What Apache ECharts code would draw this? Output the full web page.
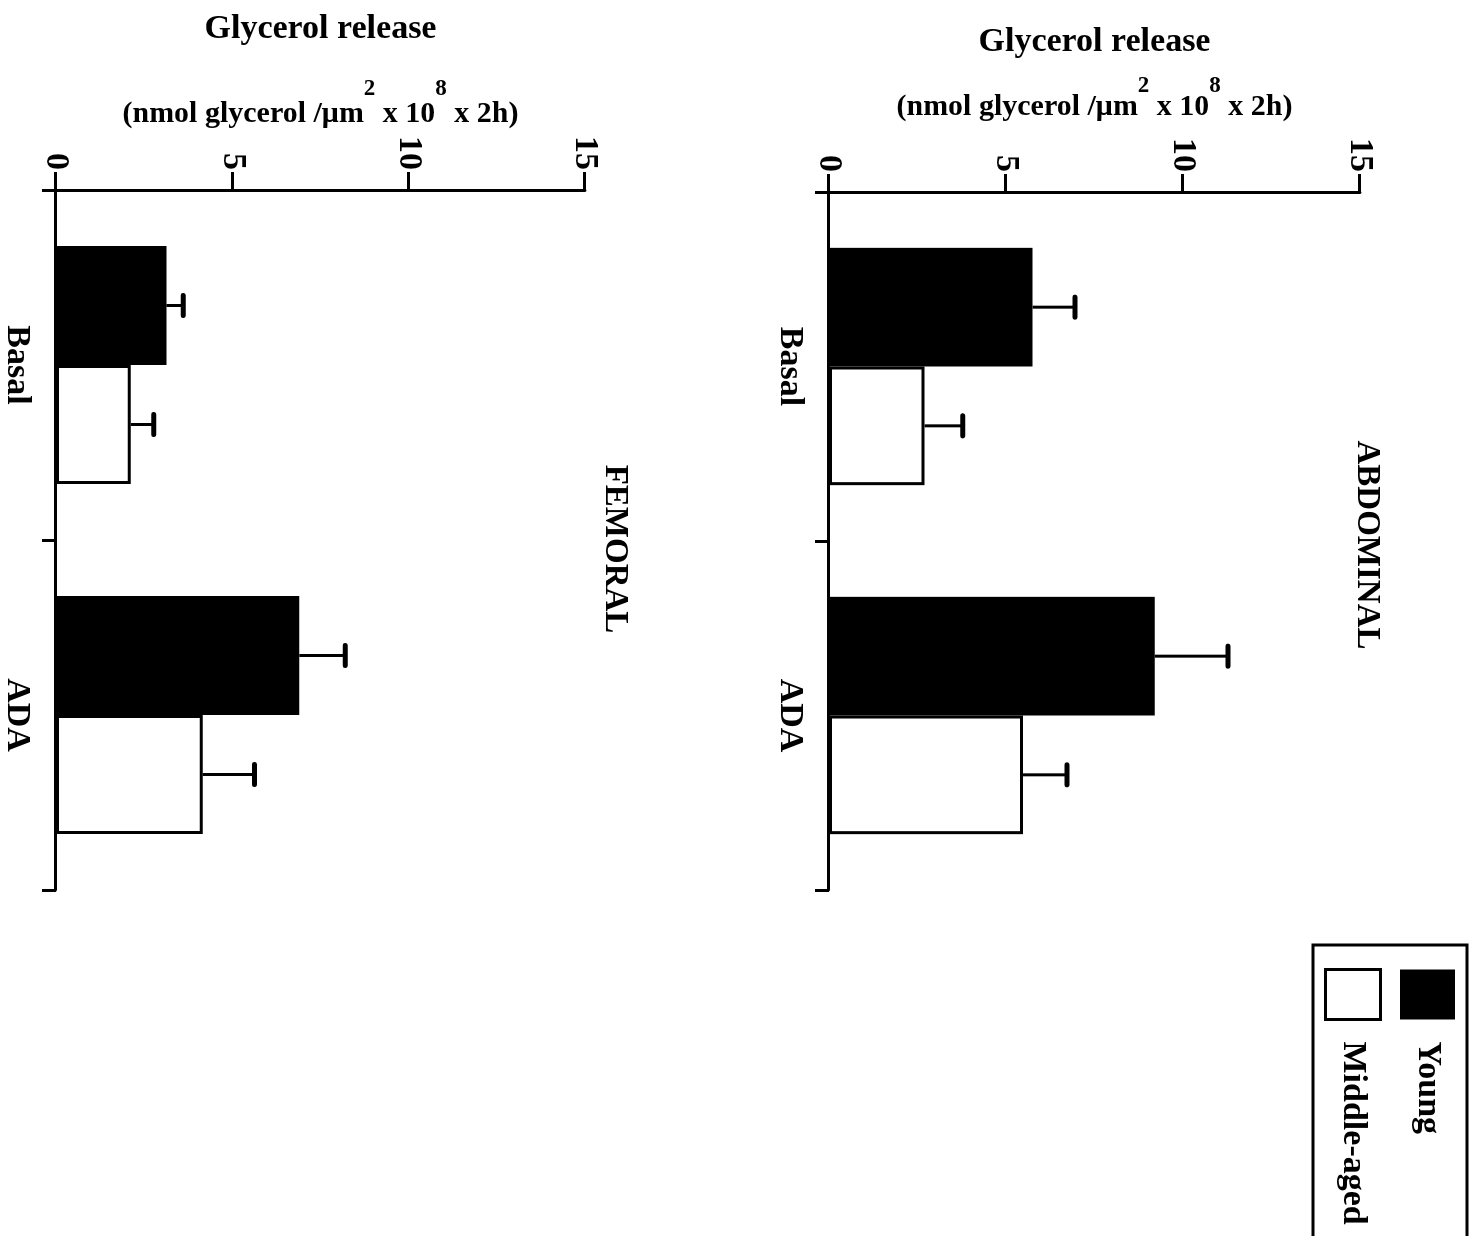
<!DOCTYPE html>
<html>
<head>
<meta charset="utf-8">
<script src="https://cdn.jsdelivr.net/npm/echarts/dist/echarts.min.js"></script>
<style>
  html, body { margin: 0; padding: 0; background: #fff; overflow: hidden; width: 1474px; height: 1236px; }
  /* The figure is laid out upright and then turned a quarter turn clockwise, as printed. */
  #chart { position: absolute; left: 0; top: 0; width: 1236px; height: 1474px;
           transform-origin: 0 0; transform: translate(1474px, 0) rotate(90deg); }
</style>
</head>
<body>
<div id="chart"></div>
<script>
// Glycerol release (mean and SEM) by adipose depot, stimulation and age group
const categories = ['Basal', 'ADA'];
const groupNames = ['Young', 'Middle-aged'];

const abdominalYoung = [5.75, 9.2];
const abdominalYoungSem = [1.2, 2.07];
const abdominalMiddle = [2.7, 5.48];
const abdominalMiddleSem = [1.08, 1.24];

const femoralYoung = [3.13, 6.9];
const femoralYoungSem = [0.48, 1.3];
const femoralMiddle = [2.12, 4.16];
const femoralMiddleSem = [0.65, 1.47];

const valueMin = 0;
const valueMax = 15;
const valueStep = 5;

const panelTitles = ['ABDOMINAL', 'FEMORAL'];

const FONT = '"Liberation Serif", "Times New Roman", serif';
const CAT_GAP = 0.32;

const chart = echarts.init(document.getElementById('chart'), null, { renderer: 'canvas' });

// Two-line axis title; the unit line carries raised exponents
function nameRich(titleLh, unitLh) {
  return {
    t: { fontFamily: FONT, fontWeight: 'bold', fontSize: 34, color: '#000', lineHeight: titleLh },
    u: { fontFamily: FONT, fontWeight: 'bold', fontSize: 30, color: '#000', lineHeight: unitLh },
    s: { fontFamily: FONT, fontWeight: 'bold', fontSize: 23, color: '#000', lineHeight: 20, verticalAlign: 'top' }
  };
}
const axisName = '{t|Glycerol release}\n{u|(nmol glycerol /\u03bcm}{s|2}{u| x 10}{s|8}{u| x 2h)}';

function valueAxis(gridIndex, gap, titleLh, unitLh) {
  return {
    type: 'value', gridIndex: gridIndex,
    min: valueMin, max: valueMax, interval: valueStep,
    name: axisName, nameLocation: 'middle', nameGap: gap, nameMoveOverlap: false,
    nameTextStyle: { rich: nameRich(titleLh, unitLh) },
    axisLine: { show: true, lineStyle: { color: '#000', width: 3 } },
    axisTick: { show: true, length: 18, lineStyle: { color: '#000', width: 3 } },
    axisLabel: { margin: 20, fontFamily: FONT, fontWeight: 'bold', fontSize: 34, color: '#000' },
    splitLine: { show: false }
  };
}

function categoryAxis(gridIndex) {
  return {
    type: 'category', gridIndex: gridIndex, data: categories,
    axisLine: { show: true, lineStyle: { color: '#000', width: 3 } },
    axisTick: { show: true, length: 14, lineStyle: { color: '#000', width: 3 } },
    axisLabel: { margin: 22, fontFamily: FONT, fontWeight: 'bold', fontSize: 34, color: '#000' }
  };
}

const barStyles = [
  { color: '#000', borderColor: '#000', borderWidth: 3 },
  { color: '#fff', borderColor: '#000', borderWidth: 3 }
];

function barSeries(name, axisIndex, values, style) {
  return {
    type: 'bar', name: name, xAxisIndex: axisIndex, yAxisIndex: axisIndex,
    data: values, barGap: '0%', barCategoryGap: (CAT_GAP * 100) + '%',
    itemStyle: style, emphasis: { disabled: true }, z: 2
  };
}

// Upper SEM whisker drawn at the centre of each bar, side = -1 (left bar) or +1 (right bar)
function errorSeries(name, axisIndex, values, sems, side) {
  return {
    type: 'custom', name: name, xAxisIndex: axisIndex, yAxisIndex: axisIndex, z: 3,
    data: categories.map((c, i) => [i, values[i], sems[i]]),
    encode: { x: 0, y: 1 },
    renderItem: function (params, api) {
      const cat = api.value(0), mean = api.value(1), sem = api.value(2);
      const band = api.size([1, 0])[0];
      const barW = band * (1 - CAT_GAP) / 2;
      const base = api.coord([cat, mean]);
      const top = api.coord([cat, mean + sem]);
      const x = base[0] + side * barW / 2;
      const half = 10;
      return {
        type: 'group',
        children: [
          { type: 'line', shape: { x1: x, y1: base[1], x2: x, y2: top[1] },
            style: { stroke: '#000', lineWidth: 3 } },
          { type: 'line', shape: { x1: x - half, y1: top[1], x2: x + half, y2: top[1] },
            style: { stroke: '#000', lineWidth: 5, lineCap: 'round' } }
        ]
      };
    }
  };
}

const option = {
  backgroundColor: '#fff',
  animation: false,
  grid: [
    { left: 192, width: 698, top: 114, height: 531 },
    { left: 190, width: 700, top: 889, height: 530 }
  ],
  xAxis: [categoryAxis(0), categoryAxis(1)],
  yAxis: [valueAxis(0, 52, 65, 65), valueAxis(1, 40, 98, 72)],
  legend: {
    orient: 'vertical', left: 945, top: 7,
    padding: [12, 30, 11, 23],
    itemWidth: 50, itemHeight: 55, itemGap: 18,
    borderColor: '#000', borderWidth: 3,
    selectedMode: false,
    textStyle: { fontFamily: FONT, fontWeight: 'bold', fontSize: 34, color: '#000', padding: [0, 0, 0, 17] },
    data: [
      { name: groupNames[0], icon: 'rect', itemStyle: { color: '#000', borderWidth: 0 } },
      { name: groupNames[1], icon: 'rect', itemStyle: { color: '#fff', borderColor: '#000', borderWidth: 3 } }
    ]
  },
  graphic: [
    { type: 'text', x: 545, y: 107, style: { text: panelTitles[0], fontFamily: FONT, fontWeight: 'bold',
      fontSize: 33, fill: '#000', textAlign: 'center', textVerticalAlign: 'middle' } },
    { type: 'text', x: 549, y: 859, style: { text: panelTitles[1], fontFamily: FONT, fontWeight: 'bold',
      fontSize: 33, fill: '#000', textAlign: 'center', textVerticalAlign: 'middle' } }
  ],
  series: [
    barSeries(groupNames[0], 0, abdominalYoung, barStyles[0]),
    barSeries(groupNames[1], 0, abdominalMiddle, barStyles[1]),
    barSeries(groupNames[0], 1, femoralYoung, barStyles[0]),
    barSeries(groupNames[1], 1, femoralMiddle, barStyles[1]),
    errorSeries(groupNames[0], 0, abdominalYoung, abdominalYoungSem, -1),
    errorSeries(groupNames[1], 0, abdominalMiddle, abdominalMiddleSem, 1),
    errorSeries(groupNames[0], 1, femoralYoung, femoralYoungSem, -1),
    errorSeries(groupNames[1], 1, femoralMiddle, femoralMiddleSem, 1)
  ]
};

chart.setOption(option);
</script>
</body>
</html>
